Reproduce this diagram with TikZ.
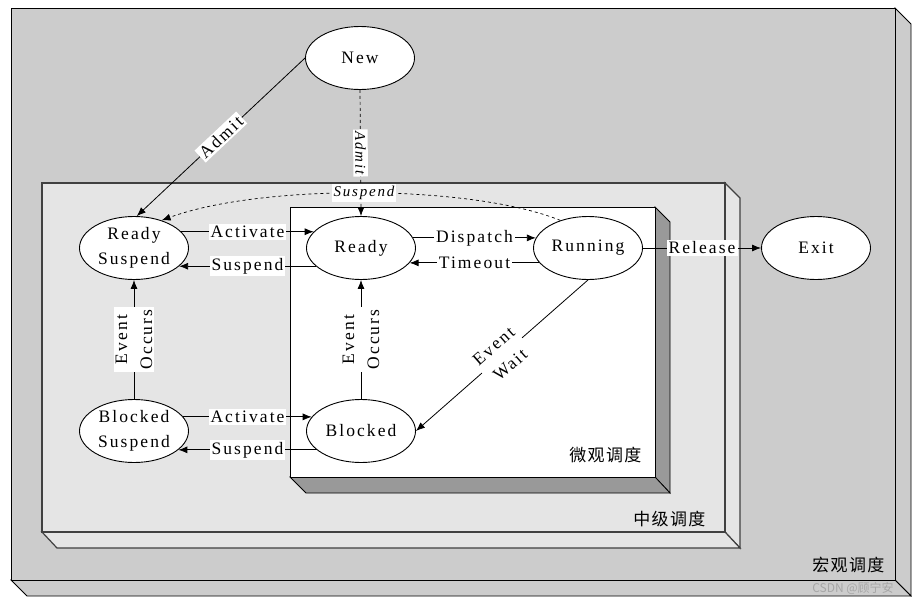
\documentclass[tikz,border=0pt]{standalone}
\usepackage{fontspec}
\setmainfont[LetterSpace=12]{Liberation Serif}
\newfontfamily\zhfont[LetterSpace=8]{Noto Sans CJK SC}
\newfontfamily\markfont{Noto Sans CJK SC}
\usepackage{tikz}
\usetikzlibrary{calc}
\usetikzlibrary{positioning}
\usetikzlibrary{shapes.geometric}
\usetikzlibrary{arrows.meta}
\definecolor{macrogray}{gray}{0.8}
\definecolor{midgray}{gray}{0.9}
\definecolor{sidegray}{gray}{0.6}

\begin{document}
\begin{tikzpicture}[x=1pt,y=-1pt]
	\tikzset{>={Latex[length=9pt,width=7pt]}}
	\tikzset{state/.style={ellipse,draw,line width=0.9pt,fill=white,minimum width=109pt,minimum height=63pt,inner sep=0pt,align=center,font=\fontsize{17.5}{25}\selectfont}}
	\tikzset{lbl/.style={fill=white,inner sep=2pt,align=center,font=\fontsize{17.5}{25}\selectfont}}
	\tikzset{ilbl/.style={fill=white,inner sep=2pt,font=\fontsize{15}{17}\selectfont\itshape}}
	\tikzset{zh/.style={anchor=east,font=\fontsize{17}{19}\selectfont\zhfont}}
	
	\useasboundingbox (0,0) rectangle (918,605);
	\fill[white] (0,0) rectangle (918,605);
	
	% 宏观调度
	\coordinate (O1) at (11,8);
	\coordinate (O2) at (895,580);
	\filldraw[fill=macrogray,line width=0.8pt] (895,8) -- (911,24) -- (911,596) -- (895,580) -- cycle;
	\filldraw[fill=macrogray,line width=0.8pt] (11,580) -- (895,580) -- (911,596) -- (27,596) -- cycle;
	\filldraw[fill=macrogray,line width=0.8pt] (O1) rectangle (O2);
	
	% 中级调度
	\coordinate (M1) at (42,183);
	\coordinate (M2) at (725,532);
	\filldraw[fill=midgray,draw=black!75,line width=1.2pt] (725,183) -- (740,198) -- (740,548) -- (725,532) -- cycle;
	\filldraw[fill=midgray,draw=black!75,line width=1.2pt] (42,532) -- (725,532) -- (740,548) -- (57,548) -- cycle;
	\filldraw[fill=midgray,draw=black!75,line width=1.2pt] (M1) rectangle (M2);
	
	% 微观调度
	\coordinate (I1) at (290,207);
	\coordinate (I2) at (655,477);
	\filldraw[fill=sidegray,line width=0.8pt] (655,207) -- (670,222) -- (670,493) -- (655,477) -- cycle;
	\filldraw[fill=sidegray,line width=0.8pt] (290,477) -- (655,477) -- (670,493) -- (306,493) -- cycle;
	\filldraw[fill=white,line width=0.8pt] (I1) rectangle (I2);
	
	\node[zh] (micro) at (645,455) {微观调度};
	\node[zh] (mid) at (709,519) {中级调度};
	\node[zh] (macro) at (888,565) {宏观调度};
	
	\node[state] (new) at (360,58) {New};
	\node[state] (rs) at (134,248) {Ready\\Suspend};
	\node[state] (rd) at (361,248) {Ready};
	\node[state] (run) at (588,248) {Running};
	\node[state] (exit) at (816,248) {Exit};
	\node[state] (bs) at (134,431) {Blocked\\Suspend};
	\node[state] (bl) at (361,431) {Blocked};
	
	\draw[->,line width=0.8pt] (new.west) -- node[lbl,sloped]{Admit} (rs.85);
	\draw[->,dashed,line width=0.7pt] (new.south) -- node[ilbl,sloped]{Admit} (rd.north);
	\draw[->,dashed,line width=0.7pt] (run.135) .. controls (470,184) and (260,184) .. node[ilbl]{Suspend} (rs.45);
	
	\draw[->,line width=0.8pt] (rs.19) -- node[lbl]{Activate} (rd.161);
	\draw[->,line width=0.8pt] (rd.202) -- node[lbl]{Suspend} (rs.-22);
	\draw[->,line width=0.8pt] (rd.11) -- node[lbl]{Dispatch} (run.169);
	\draw[->,line width=0.8pt] (run.197) -- node[lbl]{Timeout} (rd.-17);
	\draw[->,line width=0.8pt] (run) -- node[lbl]{Release} (exit);
	
	\draw[->,line width=0.8pt] (bs.north) -- node[lbl,sloped]{Event\\Occurs} (rs.south);
	\draw[->,line width=0.8pt] (bl.north) -- node[lbl,sloped]{Event\\Occurs} (rd.south);
	\draw[->,line width=0.8pt] (bs.16) -- node[lbl]{Activate} (bl.164);
	\draw[->,line width=0.8pt] (bl.203) -- node[lbl]{Suspend} (bs.-23);
	\draw[->,line width=0.8pt] (run.south) -- node[lbl,sloped]{Event\\Wait} (bl.east);
	
	\node[text=black!35,font=\fontsize{12}{14}\selectfont\markfont] (mark) at (853,588) {CSDN @顾宁安};
\end{tikzpicture}
\end{document}
